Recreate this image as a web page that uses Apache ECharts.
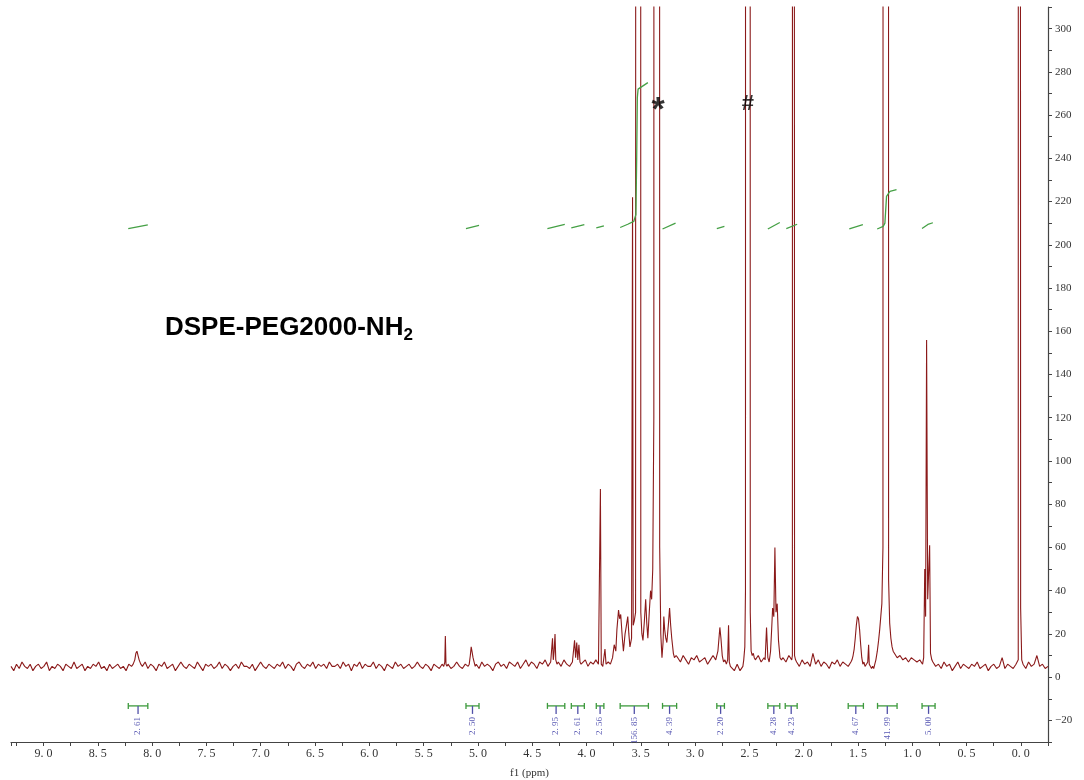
<!DOCTYPE html>
<html>
<head>
<meta charset="utf-8">
<title>DSPE-PEG2000-NH2 1H NMR</title>
<script src="https://cdn.jsdelivr.net/npm/echarts@6/dist/echarts.min.js"></script>
<style>
html, body { margin: 0; padding: 0; background: #fff; }
#main { width: 1084px; height: 780px; }
</style>
</head>
<body>
<div id="main"></div>
<script>
// baseline noise, [from ppm, to ppm, samples]
const noiseA = [9.30, 8.19, [5,3,6,4,7,5,4,6,3,5,6,4,5,7,3,5,4,6,5,3,6,5,4,7,4,5,6,3,5,4,6,5,7,4,5,3,6,4,5,6,4,5,3,6,5]];
const noiseB = [8.09, 5.33, [5,7,4,6,5,3,6,5,7,4,5,6,3,5,7,5,4,6,5,4,7,5,3,6,5,6,4,5,7,4,6,5,3,5,6,4,7,5,5,4,
                             6,3,5,7,5,4,6,5,4,6,5,7,4,6,5,3,6,7,5,4,6,5,7,4,6,5,6,4,7,5,5,6,4,7,5,6,3,6,5,7,
                             4,6,5,5,7,4,6,5,3,6,5,4,7,5,6,4,5,6,4,5,7,5,4,6,5,3,6,5,4,6]];
const noiseC = [5.275, 5.09, [6,4,5,7,5,4,6,5]];
const noiseD = [5.015, 4.33, [6,4,7,5,6,5,3,6,7,5,6,4,7,6,5,7,4,6,8,5,7,6,4,7,6,8,5,7]];
const noiseE = [4.26, 4.13, [7,5,8,6,5,7]];
const noiseF = [4.035, 3.89, [6,8,5,7,6,8,6]];
const noiseG = [3.16, 2.81, [9,7,10,8,6,9,8,10,7,8,9,6,8,10,8]];
const noiseH = [2.665, 2.56, [5,3,6,3,5]];
const noiseI = [2.445, 2.365, [8,10,7,9]];
const noiseJ = [2.19, 2.11, [9,7,10,8]];
const noiseK = [2.065, 1.565, [7,5,8,6,7,5,11,6,8,5,7,6,4,7,6,8,5,7,6,5,7]];
const noiseL = [1.165, 0.905, [12,9,10,8,9,7,9,8,7,8,6]];
const noiseM = [0.81, 0.045, [7,5,6,4,7,5,6,3,5,7,4,6,5,4,6,5,7,4,5,6,3,5,6,4,5,9,4,6,5,4,6]];
const noiseN = [-0.02, -0.25, [6,4,7,5,6,10,5,6,4,5]];

// signals, [ppm, intensity]; tall ones run off the top of the frame
const peak813 = [[8.175,6],[8.16,8],[8.15,11],[8.14,12],[8.13,10],[8.12,8],[8.105,6]];
const peak530 = [[5.315,5],[5.305,7],[5.30,19],[5.294,6],[5.285,5]];
const peak506 = [[5.08,6],[5.07,10],[5.062,14],[5.055,12],[5.045,9],[5.035,7],[5.025,5]];
const peak430 = [[4.322,7],[4.313,18],[4.306,8],[4.298,12],[4.29,20],[4.283,8],[4.272,6]];
const peak410 = [[4.12,7],[4.11,17],[4.10,9],[4.09,16],[4.08,8],[4.07,15],[4.06,7],[4.05,6]];
const peakPEG = [[3.88,6],[3.872,87],[3.864,6],[3.85,5],[3.83,13],[3.82,6],[3.80,7],[3.78,6],[3.76,9],
                 [3.745,15],[3.73,12],[3.72,22],[3.705,31],[3.695,27],[3.685,29],[3.67,18],[3.66,12],
                 [3.645,20],[3.635,23],[3.62,28],[3.61,20],[3.60,14],[3.585,18],[3.576,222],[3.57,24],
                 [3.56,26],[3.548,30],[3.54,3000],[3.508,3000],[3.50,30],[3.49,20],[3.48,17],[3.467,26],
                 [3.455,36],[3.445,25],[3.435,18],[3.422,30],[3.41,40],[3.40,36],[3.39,50],[3.38,120],
                 [3.372,3000],[3.334,3000],[3.326,60],[3.316,20],[3.305,9],[3.295,16],[3.288,28],
                 [3.28,22],[3.27,18],[3.26,16],[3.245,25],[3.235,32],[3.225,24],[3.215,18],[3.20,11],
                 [3.19,9],[3.175,10]];
const peak278 = [[2.80,8],[2.79,12],[2.78,18],[2.772,23],[2.762,18],[2.75,10],[2.738,7],[2.725,8],
                 [2.712,6],[2.70,8],[2.692,24],[2.685,7],[2.675,5]];
const peakDMSO = [[2.552,8],[2.542,14],[2.536,40],[2.532,3000],[2.497,3000],[2.492,30],[2.484,12],
                  [2.474,10],[2.464,11],[2.455,9]];
const peak228 = [[2.355,8],[2.342,23],[2.33,9],[2.318,7],[2.305,12],[2.295,22],[2.286,32],[2.275,28],
                 [2.265,60],[2.255,30],[2.244,34],[2.232,17],[2.218,9],[2.205,8]];
const peak209 = [[2.104,10],[2.099,3000],[2.089,3000],[2.084,10],[2.075,8]];
const peak150 = [[1.555,8],[1.545,10],[1.535,13],[1.525,18],[1.515,24],[1.505,28],[1.495,27],[1.485,22],
                 [1.475,15],[1.465,9],[1.455,6],[1.445,7],[1.435,5],[1.422,6],[1.41,7],[1.402,15],
                 [1.396,6],[1.386,5],[1.375,4],[1.365,5],[1.355,4],[1.345,6],[1.335,8],[1.322,12],
                 [1.31,17],[1.30,22],[1.29,28],[1.28,34],[1.27,60],[1.262,3000],[1.226,3000],
                 [1.218,45],[1.208,25],[1.197,18],[1.186,14],[1.176,12]];
const peak086 = [[0.895,9],[0.885,50],[0.877,28],[0.868,156],[0.858,36],[0.84,61],[0.832,11],[0.82,8]];
const peakTMS = [[0.035,6],[0.024,8],[0.019,3000],[0.009,3000],[0.002,32],[-0.008,8]];

// integral curves
const integralCurves = [
  [[8.22,207.5],[8.04,209.2]],
  [[5.11,207.5],[4.99,209]],
  [[4.36,207.5],[4.20,209.5]],
  [[4.14,207.8],[4.02,209.3]],
  [[3.91,207.8],[3.84,208.8]],
  [[3.69,208],[3.62,209.5],[3.565,210.8],[3.545,214],[3.538,240],[3.532,268],[3.525,272],[3.508,272.7],[3.435,275]],
  [[3.30,207.3],[3.18,210]],
  [[2.80,207.5],[2.73,208.5]],
  [[2.33,207.3],[2.22,210.3]],
  [[2.16,207.5],[2.06,209.5]],
  [[1.58,207.4],[1.455,209.3]],
  [[1.323,207.3],[1.268,208.5],[1.252,210],[1.237,222.4],[1.206,224.7],[1.145,225.5]],
  [[0.91,207.5],[0.856,209.4],[0.81,210.2]]
];

// integration ranges and values
const integralRanges = [[8.22,8.04],[5.11,4.99],[4.36,4.20],[4.14,4.02],[3.91,3.84],[3.69,3.43],
                        [3.30,3.17],[2.80,2.73],[2.33,2.22],[2.17,2.06],[1.59,1.45],[1.32,1.14],[0.91,0.79]];
const integralLabels = ['2. 61','2. 50','2. 95','2. 61','2. 56','156. 85','4. 39','2. 20','4. 28','4. 23','4. 67','41. 99','5. 00'];

const solventMarks = [[3.34, 262, '*'], [2.515, 265, '#']];

function run(r) {
  var from = r[0], to = r[1], vals = r[2];
  return vals.map(function (v, i) { return [from + (to - from) * i / (vals.length - 1), v]; });
}

var trace = [].concat(
  run(noiseA), peak813, run(noiseB), peak530, run(noiseC), peak506, run(noiseD), peak430,
  run(noiseE), peak410, run(noiseF), peakPEG, run(noiseG), peak278, run(noiseH), peakDMSO,
  run(noiseI), peak228, run(noiseJ), peak209, run(noiseK), peak150, run(noiseL), peak086,
  run(noiseM), peakTMS, run(noiseN)
);
trace.sort(function (a, b) { return b[0] - a[0]; });

var bracketLevel = -13.3;
var serif = '"Liberation Serif", "DejaVu Serif", serif';

var myChart = echarts.init(document.getElementById('main'));

var series = [{
  name: 'spectrum',
  type: 'line',
  data: trace,
  showSymbol: false,
  symbol: 'none',
  sampling: 'none',
  clip: true,
  lineStyle: { color: '#8b1a1a', width: 1.1 },
  z: 3
}];

integralCurves.forEach(function (c) {
  series.push({
    type: 'line',
    data: c,
    showSymbol: false,
    symbol: 'none',
    lineStyle: { color: '#45a045', width: 1.3 },
    z: 4
  });
});

series.push({
  type: 'custom',
  data: integralRanges,
  encode: { x: [0, 1] },
  clip: false,
  renderItem: function (params, api) {
    var p1 = api.coord([api.value(0), bracketLevel]);
    var p2 = api.coord([api.value(1), bracketLevel]);
    var cx = (p1[0] + p2[0]) / 2;
    var y = p1[1];
    var green = { stroke: '#3d9a3d', lineWidth: 1.3 };
    var blue = { stroke: '#5050a8', lineWidth: 1.3 };
    return {
      type: 'group',
      children: [
        { type: 'line', shape: { x1: p1[0], y1: y, x2: p2[0], y2: y }, style: green },
        { type: 'line', shape: { x1: p1[0], y1: y - 3, x2: p1[0], y2: y + 3 }, style: green },
        { type: 'line', shape: { x1: p2[0], y1: y - 3, x2: p2[0], y2: y + 3 }, style: green },
        { type: 'line', shape: { x1: cx, y1: y, x2: cx, y2: y + 8 }, style: blue },
        {
          type: 'text', x: cx, y: y + 11, rotation: Math.PI / 2,
          style: {
            text: integralLabels[params.dataIndex],
            fill: '#5a5ab4',
            font: '9px ' + serif,
            align: 'right',
            verticalAlign: 'middle'
          }
        }
      ]
    };
  },
  z: 5
});

series.push({
  type: 'scatter',
  data: solventMarks.map(function (m, i) {
    return {
      value: m,
      label: { fontSize: i === 0 ? 34 : 22 }
    };
  }),
  symbolSize: 0,
  label: {
    show: true,
    position: 'inside',
    formatter: function (p) { return p.value[2]; },
    color: '#000',
    fontWeight: 'bold',
    fontFamily: '"Liberation Sans", Arial, sans-serif'
  },
  z: 6
});

var option = {
  animation: false,
  backgroundColor: '#fff',
  grid: {
    left: 11,
    right: 36,
    top: 7,
    bottom: 38,
    containLabel: false,
    outerBoundsMode: 'none'
  },
  xAxis: {
    type: 'value',
    inverse: true,
    min: -0.25,
    max: 9.3,
    interval: 0.25,
    name: 'f1 (ppm)',
    nameLocation: 'middle',
    nameGap: 26,
    nameTextStyle: { fontFamily: serif, fontSize: 11, color: '#333' },
    axisLine: { show: true, onZero: false, lineStyle: { color: '#444', width: 1.2 } },
    axisTick: { show: true, length: 4, lineStyle: { color: '#444' } },
    axisLabel: {
      margin: 6,
      fontFamily: serif,
      fontSize: 12,
      color: '#333',
      showMinLabel: true,
      showMaxLabel: true,
      formatter: function (v) {
        if (Math.abs(v * 2 - Math.round(v * 2)) > 1e-6) return '';
        return Math.abs(v).toFixed(1).replace('.', '. ');
      }
    },
    splitLine: { show: false }
  },
  yAxis: {
    type: 'value',
    position: 'right',
    min: -30,
    max: 310,
    interval: 10,
    axisLine: { show: true, onZero: false, lineStyle: { color: '#444', width: 1.2 } },
    axisTick: { show: true, length: 4, lineStyle: { color: '#444' } },
    axisLabel: {
      margin: 7,
      fontFamily: serif,
      fontSize: 11,
      color: '#333',
      formatter: function (v) {
        if (v % 20 !== 0) return '';
        return v < 0 ? '\u2212' + (-v) : String(v);
      }
    },
    splitLine: { show: false }
  },
  graphic: [{
    type: 'text',
    left: 165,
    top: 315,
    style: {
      text: '{m|DSPE-PEG2000-NH}{s|2}',
      rich: {
        m: { fontFamily: '"Liberation Sans", Arial, sans-serif', fontWeight: 'bold', fontSize: 26, lineHeight: 32, fill: '#000' },
        s: { fontFamily: '"Liberation Sans", Arial, sans-serif', fontWeight: 'bold', fontSize: 17, lineHeight: 12, verticalAlign: 'bottom', fill: '#000' }
      }
    }
  }],
  series: series
};

myChart.setOption(option, true);
</script>
</body>
</html>
